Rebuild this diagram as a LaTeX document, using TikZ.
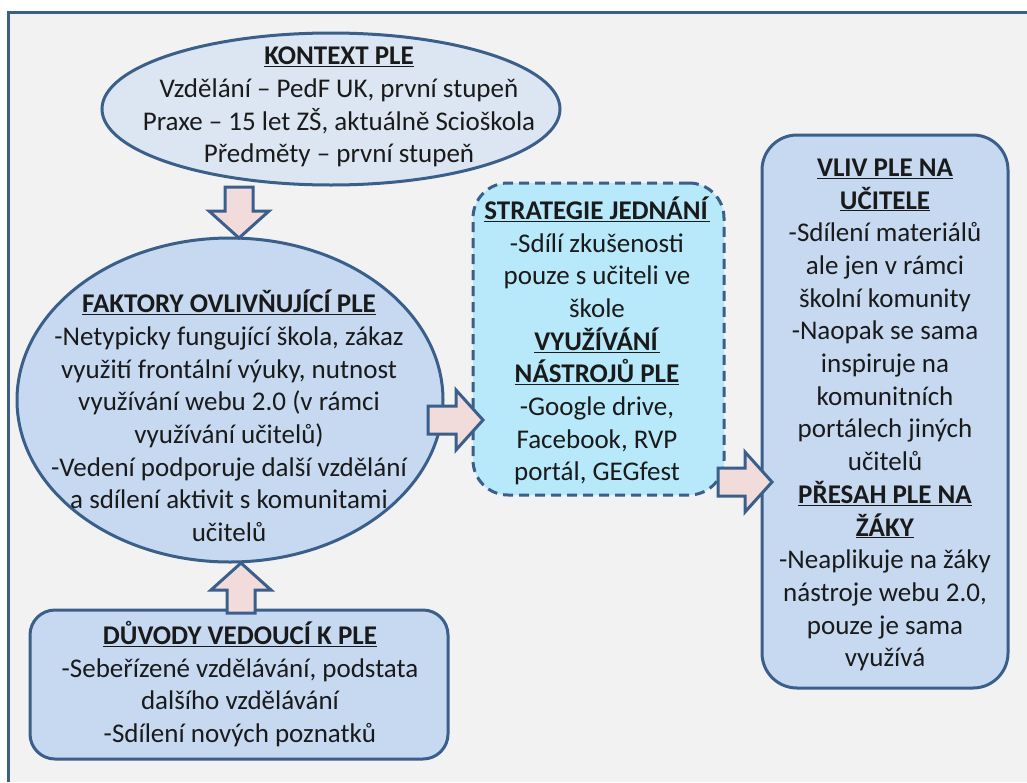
\documentclass[tikz,border=0pt]{standalone}
\usepackage{fontspec}
\setmainfont{Carlito}
\usetikzlibrary{shapes.geometric,calc}
\definecolor{edge}{HTML}{3A5F8B}
\definecolor{bgc}{HTML}{F2F2F2}
\definecolor{lightfill}{HTML}{DCE6F2}
\definecolor{midfill}{HTML}{C6D9F1}
\definecolor{cyanfill}{HTML}{B7E9FB}
\definecolor{arrowfill}{HTML}{F2DCDB}
\definecolor{ink}{HTML}{1A1A1A}
\tikzset{
  shapeline/.style={draw=edge, line width=3pt, inner sep=0pt},
  txt/.style={align=center, inner sep=0pt, text=ink, font=\fontsize{27}{32.7}\selectfont},
  barrow/.style={draw=edge, fill=arrowfill, line width=3pt, line join=miter},
}
\newcommand{\ttl}[1]{\underline{\textbf{#1}}}
\newcommand{\blockarrow}[2]{%
  \coordinate (hb) at ($(#2)!27pt!(#1)$);
  \draw[barrow] ($(#1)!14pt!90:(#2)$) -- ($(hb)!14pt!90:(#2)$) -- ($(hb)!30pt!90:(#2)$) -- (#2)
    -- ($(hb)!30pt!-90:(#2)$) -- ($(hb)!14pt!-90:(#2)$) -- ($(#1)!14pt!-90:(#2)$) -- cycle;
}
\begin{document}
\begin{tikzpicture}[x=1pt,y=-1pt]
\useasboundingbox (0,0) rectangle (1027,782);
\fill[white] (0,0) rectangle (1027,782);
\fill[bgc] (8,12) rectangle (1027,782);
\draw[edge, line width=3pt] (8,782) -- (8,12) -- (1027,12);

% shapes
\node[shapeline, ellipse, fill=lightfill, minimum width=458pt, minimum height=152pt] (kontext) at (331,109) {};
\node[shapeline, ellipse, fill=midfill, minimum width=426pt, minimum height=324pt] (faktory) at (230,400) {};
\node[shapeline, rectangle, rounded corners=25pt, fill=midfill, minimum width=418pt, minimum height=149pt] (duvody) at (239,684.5) {};
\node[shapeline, rectangle, rounded corners=35pt, fill=cyanfill, dash pattern=on 10pt off 6pt, minimum width=251pt, minimum height=312pt] (strategie) at (598.5,339) {};
\node[shapeline, rectangle, rounded corners=35pt, fill=midfill, minimum width=246pt, minimum height=553pt] (vliv) at (885,411.5) {};

% connectors
\coordinate (a1s) at (239,187);
\coordinate (a1e) at (239,238);
\coordinate (a2s) at (241,613);
\coordinate (a2e) at (241,563);
\coordinate (a3s) at (428,420);
\coordinate (a3e) at (483,420);
\coordinate (a4s) at (718,482);
\coordinate (a4e) at (772,482);
\blockarrow{a1s}{a1e}
\blockarrow{a2s}{a2e}
\blockarrow{a3s}{a3e}
\blockarrow{a4s}{a4e}

% texts
\node[txt] (kontextT) at (339,107) {\ttl{KONTEXT PLE}\\Vzdělání – PedF UK, první stupeň\\Praxe – 15 let ZŠ, aktuálně Scioškola\\Předměty – první stupeň};
\node[txt] (faktoryT) at (229,416) {\ttl{FAKTORY OVLIVŇUJÍCÍ PLE}\\-Netypicky fungující škola, zákaz\\využití frontální výuky, nutnost\\využívání webu 2.0 (v rámci\\využívání učitelů)\\-Vedení podporuje další vzdělání\\a sdílení aktivit s komunitami\\učitelů};
\node[txt] (strategieT) at (597,341) {\ttl{STRATEGIE JEDNÁNÍ}\\-Sdílí zkušenosti\\pouze s učiteli ve\\škole\\\ttl{VYUŽÍVÁNÍ}\\\ttl{NÁSTROJŮ PLE}\\-Google drive,\\Facebook, RVP\\portál, GEGfest};
\node[txt] (duvodyT) at (240,684) {\ttl{DŮVODY VEDOUCÍ K PLE}\\-Sebeřízené vzdělávání, podstata\\dalšího vzdělávání\\-Sdílení nových poznatků};
\node[txt] (vlivT) at (885,415) {\ttl{VLIV PLE NA}\\\ttl{UČITELE}\\-Sdílení materiálů\\ale jen v rámci\\školní komunity\\-Naopak se sama\\inspiruje na\\komunitních\\portálech jiných\\učitelů\\\ttl{PŘESAH PLE NA}\\\ttl{ŽÁKY}\\-Neaplikuje na žáky\\nástroje webu 2.0,\\pouze je sama\\využívá};
\end{tikzpicture}
\end{document}
